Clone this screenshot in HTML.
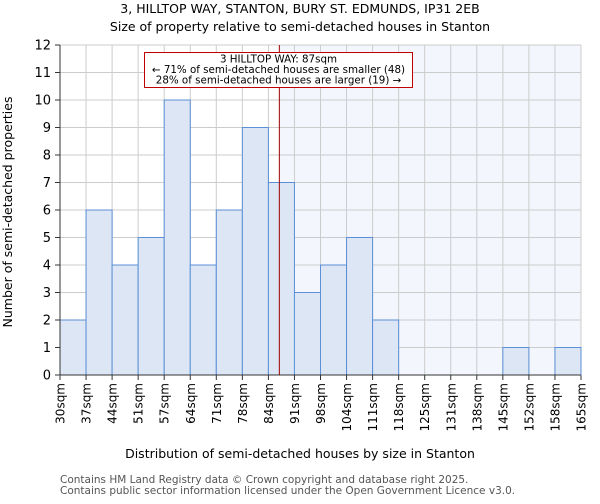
<!DOCTYPE html>
<html><head><meta charset="utf-8"><style>
body{margin:0;background:#fff;font-family:"DejaVu Sans","Liberation Sans",sans-serif}
svg text{font-family:"DejaVu Sans","Liberation Sans",sans-serif}
</style></head><body>
<svg id="c" width="600" height="500" xmlns="http://www.w3.org/2000/svg">
<text x="300" y="13" font-size="12.5" text-anchor="middle">3, HILLTOP WAY, STANTON, BURY ST. EDMUNDS, IP31 2EB</text>
<text x="300" y="31" font-size="12.5" text-anchor="middle">Size of property relative to semi-detached houses in Stanton</text>
<text transform="translate(12,212) rotate(-90)" font-size="12.5" text-anchor="middle">Number of semi-detached properties</text>
<text x="300" y="458" font-size="12.5" text-anchor="middle">Distribution of semi-detached houses by size in Stanton</text>
<text x="60" y="483" font-size="10.5" fill="#555">Contains HM Land Registry data © Crown copyright and database right 2025.</text>
<text x="60" y="494" font-size="10.5" fill="#555">Contains public sector information licensed under the Open Government Licence v3.0.</text>
<g id="plot"></g>
</svg>
<script>
const tickLabels=["30sqm","37sqm","44sqm","51sqm","57sqm","64sqm","71sqm","78sqm","84sqm","91sqm","98sqm","104sqm","111sqm","118sqm","125sqm","131sqm","138sqm","145sqm","152sqm","158sqm","165sqm"];
const counts=[2,6,4,5,10,4,6,9,7,3,4,5,2,0,0,0,0,1,0,1];
const yTicks=[0,1,2,3,4,5,6,7,8,9,10,11,12];
const markerBin=8.42;
const NS="http://www.w3.org/2000/svg";
const X0=60,X1=581,Y0=375,Y1=45,YMAX=12;
const bw=(X1-X0)/counts.length;
const xs=i=>X0+i*bw;
const ys=v=>Y0-(Y0-Y1)*v/YMAX;
const g=document.getElementById('plot');
function mk(t,a){const e=document.createElementNS(NS,t);for(const k in a)e.setAttribute(k,a[k]);g.appendChild(e);return e;}
const mx=xs(markerBin);
let e=mk('rect',{x:mx,y:Y1,width:X1-mx,height:Y0-Y1,fill:'#eef2fb',opacity:0.7});


for(let i=0;i<tickLabels.length;i++){
 e=mk('line',{x1:xs(i),x2:xs(i),y1:Y1,y2:Y0,stroke:'#ccc','stroke-width':1});
 
 
 e=mk('line',{x1:xs(i),x2:xs(i),y1:Y0,y2:Y0+5,stroke:'#333'});
 
 
 e=mk('text',{transform:`translate(${xs(i)+4.5},${Y0+8}) rotate(-90)`,'font-size':12,'text-anchor':'end'});
 e.textContent=tickLabels[i];
 
 
}
yTicks.forEach(v=>{
 e=mk('line',{x1:X0,x2:X1,y1:ys(v),y2:ys(v),stroke:'#ccc'});
 
 
 e=mk('line',{x1:X0-5,x2:X0,y1:ys(v),y2:ys(v),stroke:'#333'});
 
 
 e=mk('text',{x:X0-9,y:ys(v)+4.5,'font-size':13,'text-anchor':'end'});
 e.textContent=v;
 
 
});
counts.forEach((c,i)=>{
 if(c<=0)return;
 e=mk('rect',{x:xs(i),y:ys(c),width:bw,height:Y0-ys(c),fill:'#dce6f4',stroke:'#5b8fd6','stroke-width':1});
 
 
});
e=mk('line',{x1:X0,x2:X0,y1:Y1,y2:Y0,stroke:'#333'});


e=mk('line',{x1:X0,x2:X1,y1:Y0,y2:Y0,stroke:'#333'});


e=mk('line',{x1:mx,x2:mx,y1:Y1,y2:Y0,stroke:'#a00000','stroke-width':1});


e=mk('rect',{x:144.5,y:52.5,width:268,height:35,fill:'#fff',stroke:'#c00000','stroke-width':1});


const lines=["3 HILLTOP WAY: 87sqm","← 71% of semi-detached houses are smaller (48)","28% of semi-detached houses are larger (19) →"];
lines.forEach((t,k)=>{
 e=mk('text',{x:278.5,y:62.5+k*10.5,'font-size':10.3,'text-anchor':'middle'});
 e.textContent=t;
 
 
});
</script>
</body></html>
